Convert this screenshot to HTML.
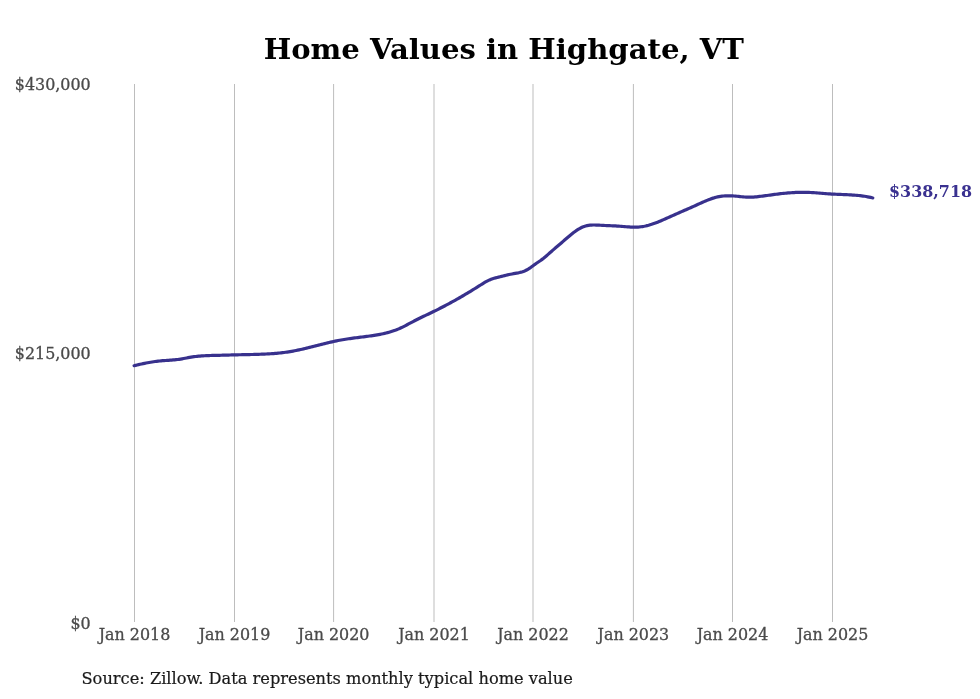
<!DOCTYPE html>
<html><head><meta charset="utf-8"><style>
html,body{margin:0;padding:0;background:#fff;}
body{width:980px;height:699px;overflow:hidden;}
svg{display:block;}
svg{will-change:transform;}
.ax{font-family:"DejaVu Serif Condensed", "DejaVu Serif", serif;font-size:17.7px;font-stretch:condensed;fill:#4a4a4a;stroke:#4a4a4a;stroke-width:0.3px;}
.title{font-family:"DejaVu Serif", serif;font-weight:bold;font-size:29.1px;fill:#000;}
.src{font-family:"DejaVu Serif Condensed", "DejaVu Serif", serif;font-size:18.05px;font-stretch:condensed;fill:#1a1a1a;stroke:#1a1a1a;stroke-width:0.2px;}
.end{font-family:"DejaVu Serif Condensed", "DejaVu Serif", serif;font-weight:bold;font-size:17.7px;font-stretch:condensed;fill:#3a3190;}
</style></head><body>
<svg width="980" height="699" viewBox="0 0 980 699">
<rect width="980" height="699" fill="#fff"/>
<text transform="translate(503.8,59.2) scale(1,0.94)" text-anchor="middle" class="title">Home Values in Highgate, VT</text>
<line x1="134.5" y1="84" x2="134.5" y2="622" stroke="#bdbdbd" stroke-width="1"/><line x1="234.5" y1="84" x2="234.5" y2="622" stroke="#bdbdbd" stroke-width="1"/><line x1="333.6" y1="84" x2="333.6" y2="622" stroke="#bdbdbd" stroke-width="1"/><line x1="434.0" y1="84" x2="434.0" y2="622" stroke="#bdbdbd" stroke-width="1"/><line x1="533.0" y1="84" x2="533.0" y2="622" stroke="#bdbdbd" stroke-width="1"/><line x1="633.4" y1="84" x2="633.4" y2="622" stroke="#bdbdbd" stroke-width="1"/><line x1="732.5" y1="84" x2="732.5" y2="622" stroke="#bdbdbd" stroke-width="1"/><line x1="832.5" y1="84" x2="832.5" y2="622" stroke="#bdbdbd" stroke-width="1"/>
<text transform="translate(90.7,90.4) scale(1,0.97)" text-anchor="end" class="ax">$430,000</text><text transform="translate(90.7,358.5) scale(1,0.97)" text-anchor="end" class="ax">$215,000</text><text transform="translate(90.7,628.5) scale(1,0.97)" text-anchor="end" class="ax">$0</text>
<text transform="translate(134.5,640.0) scale(1,0.97)" text-anchor="middle" class="ax">Jan 2018</text><text transform="translate(234.5,640.0) scale(1,0.97)" text-anchor="middle" class="ax">Jan 2019</text><text transform="translate(333.6,640.0) scale(1,0.97)" text-anchor="middle" class="ax">Jan 2020</text><text transform="translate(434.0,640.0) scale(1,0.97)" text-anchor="middle" class="ax">Jan 2021</text><text transform="translate(533.0,640.0) scale(1,0.97)" text-anchor="middle" class="ax">Jan 2022</text><text transform="translate(633.4,640.0) scale(1,0.97)" text-anchor="middle" class="ax">Jan 2023</text><text transform="translate(732.5,640.0) scale(1,0.97)" text-anchor="middle" class="ax">Jan 2024</text><text transform="translate(832.5,640.0) scale(1,0.97)" text-anchor="middle" class="ax">Jan 2025</text>
<path d="M134.1,365.73 L135.6,365.36 L137.1,365.00 L138.6,364.64 L140.1,364.30 L141.6,363.97 L143.1,363.64 L144.6,363.33 L146.1,363.03 L147.6,362.74 L149.1,362.47 L150.6,362.21 L152.1,361.96 L153.6,361.73 L155.1,361.52 L156.6,361.32 L158.1,361.14 L159.6,360.97 L161.1,360.83 L162.6,360.70 L164.1,360.59 L165.6,360.48 L167.1,360.38 L168.6,360.28 L170.1,360.18 L171.6,360.07 L173.1,359.95 L174.6,359.81 L176.1,359.66 L177.6,359.49 L179.1,359.29 L180.6,359.06 L182.1,358.80 L183.6,358.53 L185.1,358.24 L186.6,357.95 L188.1,357.66 L189.6,357.39 L191.1,357.14 L192.6,356.91 L194.1,356.71 L195.6,356.52 L197.1,356.36 L198.6,356.21 L200.1,356.08 L201.6,355.96 L203.1,355.86 L204.6,355.77 L206.1,355.69 L207.6,355.63 L209.1,355.57 L210.6,355.52 L212.1,355.47 L213.6,355.43 L215.1,355.39 L216.6,355.36 L218.1,355.33 L219.6,355.29 L221.1,355.26 L222.6,355.22 L224.1,355.18 L225.6,355.14 L227.1,355.10 L228.6,355.05 L230.1,355.01 L231.6,354.97 L233.1,354.93 L234.6,354.89 L236.1,354.84 L237.6,354.81 L239.1,354.77 L240.6,354.73 L242.1,354.70 L243.6,354.67 L245.1,354.64 L246.6,354.61 L248.1,354.58 L249.6,354.55 L251.1,354.52 L252.6,354.48 L254.1,354.45 L255.6,354.41 L257.1,354.37 L258.6,354.32 L260.1,354.27 L261.6,354.22 L263.1,354.16 L264.6,354.09 L266.1,354.02 L267.6,353.94 L269.1,353.86 L270.6,353.76 L272.1,353.66 L273.6,353.55 L275.1,353.43 L276.6,353.30 L278.1,353.16 L279.6,353.01 L281.1,352.85 L282.6,352.67 L284.1,352.48 L285.6,352.28 L287.1,352.07 L288.6,351.84 L290.1,351.60 L291.6,351.34 L293.1,351.07 L294.6,350.78 L296.1,350.49 L297.6,350.18 L299.1,349.86 L300.6,349.53 L302.1,349.19 L303.6,348.84 L305.1,348.49 L306.6,348.13 L308.1,347.76 L309.6,347.39 L311.1,347.01 L312.6,346.63 L314.1,346.25 L315.6,345.87 L317.1,345.49 L318.6,345.10 L320.1,344.72 L321.6,344.34 L323.1,343.97 L324.6,343.59 L326.1,343.23 L327.6,342.86 L329.1,342.51 L330.6,342.16 L332.1,341.82 L333.6,341.48 L335.1,341.16 L336.6,340.85 L338.1,340.55 L339.6,340.26 L341.1,339.98 L342.6,339.72 L344.1,339.47 L345.6,339.23 L347.1,339.00 L348.6,338.77 L350.1,338.56 L351.6,338.35 L353.1,338.15 L354.6,337.95 L356.1,337.76 L357.6,337.57 L359.1,337.38 L360.6,337.19 L362.1,337.00 L363.6,336.81 L365.1,336.62 L366.6,336.43 L368.1,336.23 L369.6,336.02 L371.1,335.82 L372.6,335.60 L374.1,335.37 L375.6,335.13 L377.1,334.88 L378.6,334.62 L380.1,334.34 L381.6,334.04 L383.1,333.72 L384.6,333.39 L386.1,333.03 L387.6,332.64 L389.1,332.23 L390.6,331.79 L392.1,331.32 L393.6,330.82 L395.1,330.29 L396.6,329.72 L398.1,329.11 L399.6,328.47 L401.1,327.79 L402.6,327.07 L404.1,326.33 L405.6,325.56 L407.1,324.77 L408.6,323.96 L410.1,323.16 L411.6,322.35 L413.1,321.55 L414.6,320.76 L416.1,319.98 L417.6,319.22 L419.1,318.48 L420.6,317.75 L422.1,317.03 L423.6,316.31 L425.1,315.60 L426.6,314.90 L428.1,314.19 L429.6,313.47 L431.1,312.75 L432.6,312.03 L434.1,311.30 L435.6,310.56 L437.1,309.81 L438.6,309.06 L440.1,308.30 L441.6,307.53 L443.1,306.76 L444.6,305.98 L446.1,305.19 L447.6,304.39 L449.1,303.59 L450.6,302.78 L452.1,301.96 L453.6,301.13 L455.1,300.30 L456.6,299.45 L458.1,298.60 L459.6,297.74 L461.1,296.88 L462.6,296.00 L464.1,295.12 L465.6,294.23 L467.1,293.33 L468.6,292.42 L470.1,291.51 L471.6,290.60 L473.1,289.68 L474.6,288.75 L476.1,287.82 L477.6,286.88 L479.1,285.94 L480.6,284.99 L482.1,284.05 L483.6,283.13 L485.1,282.24 L486.6,281.39 L488.1,280.61 L489.6,279.91 L491.1,279.30 L492.6,278.77 L494.1,278.31 L495.6,277.90 L497.1,277.52 L498.6,277.15 L500.1,276.79 L501.6,276.41 L503.1,276.02 L504.6,275.63 L506.1,275.25 L507.6,274.89 L509.1,274.55 L510.6,274.24 L512.1,273.96 L513.6,273.70 L515.1,273.45 L516.6,273.18 L518.1,272.89 L519.6,272.55 L521.1,272.16 L522.6,271.70 L524.1,271.16 L525.6,270.52 L527.1,269.76 L528.6,268.90 L530.1,267.92 L531.6,266.83 L533.1,265.70 L534.6,264.58 L536.1,263.52 L537.6,262.53 L539.1,261.53 L540.6,260.49 L542.1,259.36 L543.6,258.18 L545.1,256.94 L546.6,255.66 L548.1,254.35 L549.6,253.03 L551.1,251.71 L552.6,250.39 L554.1,249.09 L555.6,247.81 L557.1,246.54 L558.6,245.27 L560.1,243.99 L561.6,242.69 L563.1,241.37 L564.6,240.06 L566.1,238.75 L567.6,237.45 L569.1,236.17 L570.6,234.93 L572.1,233.72 L573.6,232.56 L575.1,231.45 L576.6,230.41 L578.1,229.44 L579.6,228.55 L581.1,227.75 L582.6,227.05 L584.1,226.45 L585.6,225.97 L587.1,225.59 L588.6,225.32 L590.1,225.14 L591.6,225.03 L593.1,224.99 L594.6,225.00 L596.1,225.04 L597.6,225.11 L599.1,225.19 L600.6,225.27 L602.1,225.35 L603.6,225.42 L605.1,225.49 L606.6,225.55 L608.1,225.61 L609.6,225.68 L611.1,225.74 L612.6,225.81 L614.1,225.89 L615.6,225.96 L617.1,226.05 L618.6,226.15 L620.1,226.26 L621.6,226.37 L623.1,226.50 L624.6,226.63 L626.1,226.75 L627.6,226.87 L629.1,226.97 L630.6,227.06 L632.1,227.13 L633.6,227.16 L635.1,227.17 L636.6,227.14 L638.1,227.06 L639.6,226.95 L641.1,226.78 L642.6,226.55 L644.1,226.29 L645.6,225.97 L647.1,225.61 L648.6,225.22 L650.1,224.78 L651.6,224.32 L653.1,223.82 L654.6,223.29 L656.1,222.73 L657.6,222.15 L659.1,221.55 L660.6,220.93 L662.1,220.30 L663.6,219.65 L665.1,219.00 L666.6,218.33 L668.1,217.66 L669.6,216.99 L671.1,216.32 L672.6,215.65 L674.1,214.99 L675.6,214.32 L677.1,213.65 L678.6,212.99 L680.1,212.32 L681.6,211.66 L683.1,210.99 L684.6,210.33 L686.1,209.67 L687.6,209.00 L689.1,208.34 L690.6,207.67 L692.1,207.00 L693.6,206.34 L695.1,205.67 L696.6,205.00 L698.1,204.33 L699.6,203.65 L701.1,202.98 L702.6,202.30 L704.1,201.64 L705.6,200.99 L707.1,200.36 L708.6,199.75 L710.1,199.17 L711.6,198.63 L713.1,198.13 L714.6,197.67 L716.1,197.27 L717.6,196.92 L719.1,196.62 L720.6,196.37 L722.1,196.16 L723.6,196.01 L725.1,195.89 L726.6,195.82 L728.1,195.79 L729.6,195.80 L731.1,195.84 L732.6,195.92 L734.1,196.02 L735.6,196.15 L737.1,196.28 L738.6,196.43 L740.1,196.58 L741.6,196.72 L743.1,196.86 L744.6,196.98 L746.1,197.07 L747.6,197.14 L749.1,197.18 L750.6,197.17 L752.1,197.12 L753.6,197.04 L755.1,196.93 L756.6,196.79 L758.1,196.63 L759.6,196.46 L761.1,196.28 L762.6,196.09 L764.1,195.89 L765.6,195.69 L767.1,195.48 L768.6,195.28 L770.1,195.07 L771.6,194.86 L773.1,194.66 L774.6,194.46 L776.1,194.26 L777.6,194.07 L779.1,193.88 L780.6,193.70 L782.1,193.53 L783.6,193.38 L785.1,193.23 L786.6,193.09 L788.1,192.96 L789.6,192.84 L791.1,192.73 L792.6,192.63 L794.1,192.55 L795.6,192.47 L797.1,192.41 L798.6,192.37 L800.1,192.33 L801.6,192.31 L803.1,192.30 L804.6,192.31 L806.1,192.33 L807.6,192.36 L809.1,192.41 L810.6,192.48 L812.1,192.56 L813.6,192.65 L815.1,192.75 L816.6,192.86 L818.1,192.98 L819.6,193.11 L821.1,193.23 L822.6,193.36 L824.1,193.49 L825.6,193.61 L827.1,193.73 L828.6,193.84 L830.1,193.94 L831.6,194.04 L833.1,194.12 L834.6,194.20 L836.1,194.27 L837.6,194.33 L839.1,194.39 L840.6,194.45 L842.1,194.51 L843.6,194.57 L845.1,194.63 L846.6,194.70 L848.1,194.77 L849.6,194.85 L851.1,194.93 L852.6,195.03 L854.1,195.13 L855.6,195.25 L857.1,195.38 L858.6,195.53 L860.1,195.69 L861.6,195.87 L863.1,196.07 L864.6,196.29 L866.1,196.54 L867.6,196.81 L869.1,197.10 L870.6,197.42 L872.1,197.76 L872.8,197.94" fill="none" stroke="#38318d" stroke-width="3.2" stroke-linecap="round" stroke-linejoin="round"/>
<text transform="translate(889.0,196.7) scale(1,0.97)" text-anchor="start" class="end">$338,718</text>
<text transform="translate(81.5,683.7) scale(1,0.97)" text-anchor="start" class="src">Source: Zillow. Data represents monthly typical home value</text>
</svg>
</body></html>
